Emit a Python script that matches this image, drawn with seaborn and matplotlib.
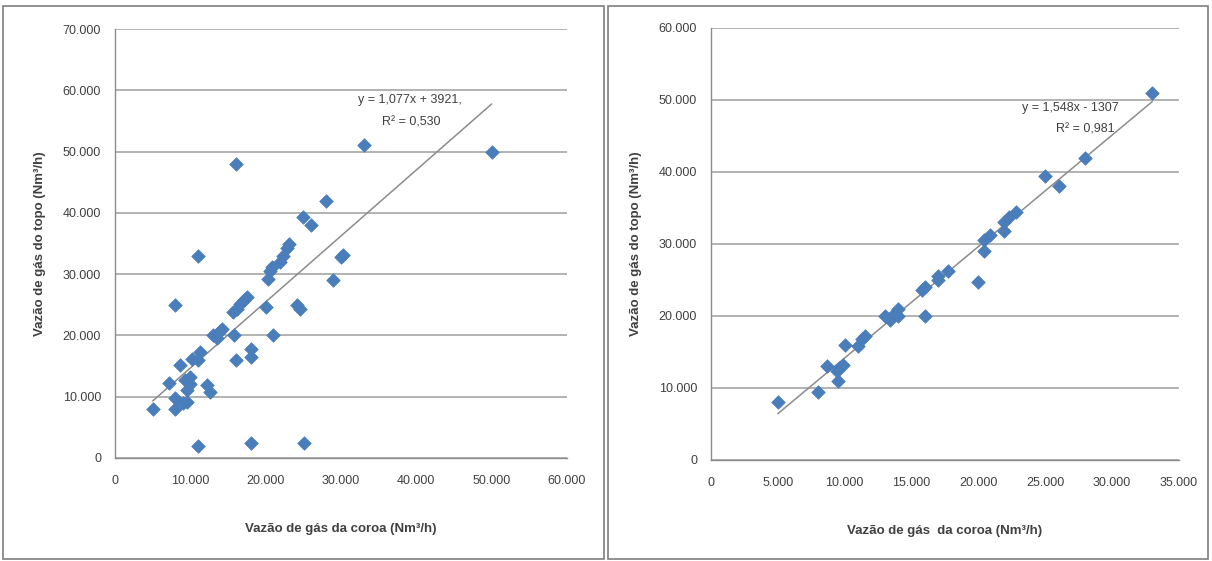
import numpy as np
import pandas as pd
import matplotlib
matplotlib.use("Agg")
import matplotlib.pyplot as plt
from matplotlib.ticker import FuncFormatter, MultipleLocator
from matplotlib.patches import Rectangle
import seaborn as sns

# Left panel: crown gas flow vs. top gas flow (all runs)
coroa_a = [5000, 7200, 8000, 8000, 8000, 8600, 9000, 9300, 9500, 9500,
           10000, 10000, 10200, 11000, 11000, 11000, 11300, 12200, 12600, 13000,
           13500, 13900, 14200, 16000, 15800, 16000, 15700, 16200, 16600, 17100,
           17500, 18000, 18000, 18000, 20000, 20300, 20600, 20800, 21000, 21900,
           22300, 22800, 23100, 24200, 24500, 25000, 25100, 26000, 28000, 29000,
           30000, 30200, 33000, 50000]
topo_a = [8000, 12200, 25000, 8000, 9800, 15200, 9000, 12700, 11100, 9200,
          13200, 12000, 16100, 33000, 2000, 16000, 17300, 11900, 10800, 20000,
          19500, 20700, 21000, 48000, 20000, 16000, 23800, 24300, 25200, 25800,
          26300, 17800, 16500, 2400, 24700, 29200, 30500, 31200, 20000, 32000,
          33000, 34300, 35000, 25000, 24300, 39400, 2400, 38000, 42000, 29000,
          32800, 33200, 51000, 50000]

# Right panel: crown gas flow vs. top gas flow (filtered runs)
coroa_b = [5000, 8000, 8700, 9400, 9500, 9600, 9900, 10000, 11000, 11300,
           11500, 13000, 13400, 13700, 14000, 14000, 16000, 15800, 16000, 17000,
           17000, 17700, 20000, 20400, 20400, 20900, 21900, 21900, 22300, 22800,
           25000, 26000, 28000, 33000]
topo_b = [8000, 9500, 13000, 12300, 11000, 12800, 13200, 16000, 15800, 16800,
          17200, 20000, 19500, 20300, 21000, 20000, 20000, 23600, 24000, 25000,
          25500, 26200, 24700, 29000, 30600, 31300, 31800, 33000, 33700, 34400,
          39400, 38000, 42000, 51000]

# Linear trend coefficients (slope, intercept) and R² for each panel
fit_a = (1.077, 3921, "0,530")
fit_b = (1.548, -1307, "0,981")

xlabels = ["Vazão de gás da coroa (Nm³/h)", "Vazão de gás  da coroa (Nm³/h)"]
ylabel = "Vazão de gás do topo (Nm³/h)"

sns.set_theme(style="white")
plt.rcParams["font.family"] = ["Liberation Sans Narrow", "Liberation Sans", "DejaVu Sans"]

marker_color = "#4A7EBB"
grid_color = "#A6A6A6"
text_color = "#404040"

fig = plt.figure(figsize=(12.12, 5.61), dpi=100)
fig.patch.set_facecolor("white")

# Chart-area frames
fig.add_artist(Rectangle((3 / 1212, 2 / 561), 601 / 1212, 553 / 561, transform=fig.transFigure,
                         fill=False, edgecolor="#7F7F7F", linewidth=1.2))
fig.add_artist(Rectangle((608 / 1212, 2 / 561), 600 / 1212, 553 / 561, transform=fig.transFigure,
                         fill=False, edgecolor="#7F7F7F", linewidth=1.2))

ax1 = fig.add_axes([115 / 1212, (561 - 458) / 561, 452 / 1212, 429 / 561])
ax2 = fig.add_axes([711 / 1212, (561 - 460) / 561, 468 / 1212, 432 / 561])

fmt = FuncFormatter(lambda v, p: f"{int(round(v)):,}".replace(",", "."))

panels = [
    (ax1, coroa_a, topo_a, fit_a, (0, 60000), 10000, (0, 70000), 10000, xlabels[0],
     "y = 1,077x + 3921,", (0.653, 0.834), (0.655, 0.781)),
    (ax2, coroa_b, topo_b, fit_b, (0, 35000), 5000, (0, 60000), 10000, xlabels[1],
     "y = 1,548x - 1307", (0.767, 0.815), (0.80, 0.764)),
]

for ax, xs, ys, fit, xlim, xstep, ylim, ystep, xlab, eq, eq_pos, r2_pos in panels:
    df = pd.DataFrame({"coroa": xs, "topo": ys})
    slope, intercept, r2 = fit
    xt = np.array([min(xs), max(xs)])
    trend = pd.DataFrame({"coroa": xt, "topo": slope * xt + intercept})

    ax.set_xlim(*xlim)
    ax.set_ylim(*ylim)
    ax.xaxis.set_major_locator(MultipleLocator(xstep))
    ax.yaxis.set_major_locator(MultipleLocator(ystep))
    ax.yaxis.grid(True, color=grid_color, linewidth=1.2)
    ax.xaxis.grid(False)
    ax.set_axisbelow(True)

    sns.lineplot(data=trend, x="coroa", y="topo", ax=ax, color="#8C8C8C",
                 linewidth=1.1, zorder=2)
    sns.scatterplot(data=df, x="coroa", y="topo", ax=ax, marker="D", s=48,
                    color=marker_color, edgecolor=marker_color, linewidth=0.5, zorder=3)

    ax.xaxis.set_major_formatter(fmt)
    ax.yaxis.set_major_formatter(fmt)
    for side in ("top", "right"):
        ax.spines[side].set_visible(False)
    for side in ("left", "bottom"):
        ax.spines[side].set_color("#8C8C8C")
        ax.spines[side].set_linewidth(1.0)
    ax.tick_params(axis="both", which="major", direction="out", length=4, width=1.0,
                   color="#8C8C8C", labelsize=9, labelcolor=text_color, pad=6)
    ax.tick_params(axis="x", pad=8)
    ax.set_xlabel(xlab, fontsize=9.5, fontweight="bold", color=text_color, labelpad=26)
    ax.set_ylabel(ylabel, fontsize=9.5, fontweight="bold", color=text_color, labelpad=12)

    ax.text(eq_pos[0], eq_pos[1], eq, transform=ax.transAxes, ha="center", va="center",
            fontsize=9, color=text_color)
    ax.text(r2_pos[0], r2_pos[1], f"R² = {r2}", transform=ax.transAxes, ha="center",
            va="center", fontsize=9, color=text_color)

fig.savefig("out.png", dpi=100, facecolor="white")
